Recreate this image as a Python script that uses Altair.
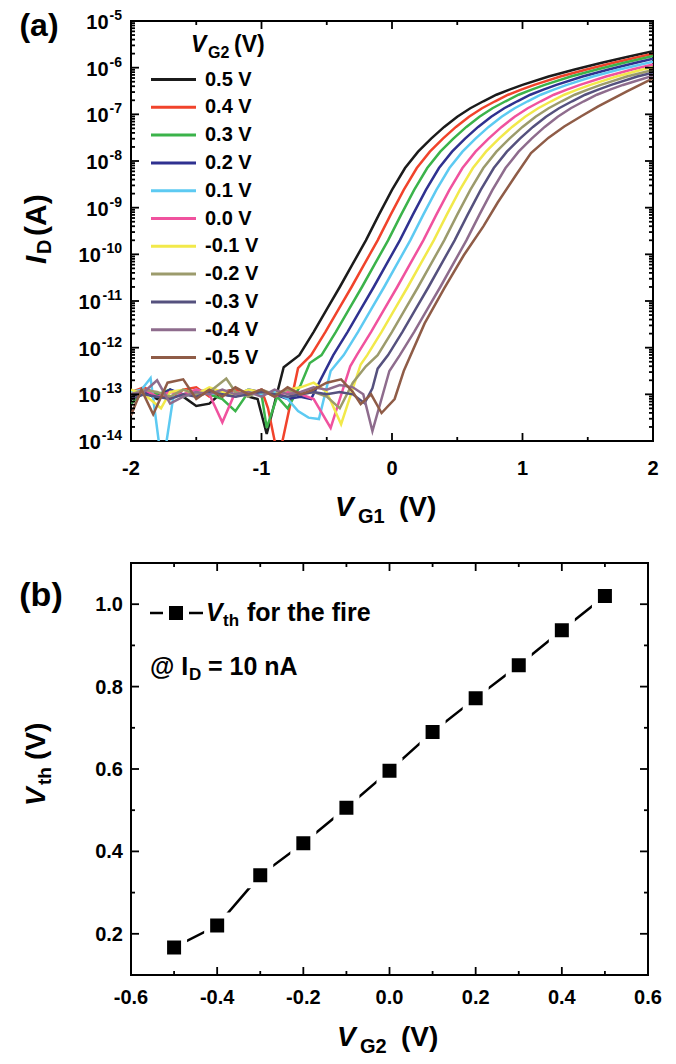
import altair as alt
import pandas as pd

FONT = "Liberation Sans"

# ---------------- panel (a): transfer curves ----------------
VG2_NAMES = ["0.5 V", "0.4 V", "0.3 V", "0.2 V", "0.1 V", "0.0 V",
             "-0.1 V", "-0.2 V", "-0.3 V", "-0.4 V", "-0.5 V"]
COLORS = ["#1b1b1b", "#f1432b", "#3bb34a", "#2f3190", "#5dcaf2", "#f0529e",
          "#f2e94a", "#9c9b6c", "#55517e", "#8e6c8d", "#8f5c47"]

VG1_P05 = [-2.0, -1.9, -1.8, -1.7, -1.6, -1.5, -1.4, -1.3, -1.2, -1.1, -1.03, -0.96, -0.83,
           -0.71, -0.6, -0.5, -0.4, -0.3, -0.2, -0.1, 0.0, 0.1, 0.2, 0.3, 0.4, 0.5, 0.6, 0.7,
           0.8, 0.9, 1.0, 1.2, 1.4, 1.6, 1.8, 2.0]
LOG_P05 = [-13.05, -12.95, -13.1, -12.9, -13.05, -13.25, -13.2, -12.95, -12.9, -13.05, -13.1, -13.85, -12.42,
           -12.16, -11.66, -11.18, -10.70, -10.20, -9.70, -9.15, -8.62, -8.15, -7.80, -7.52, -7.27, -7.05, -6.87, -6.72,
           -6.58, -6.47, -6.37, -6.19, -6.04, -5.90, -5.77, -5.65]

VG1_P04 = [-2.0, -1.9, -1.8, -1.7, -1.6, -1.5, -1.4, -1.3, -1.2, -1.1, -1.0, -0.95, -0.87, -0.72,
           -0.62, -0.51, -0.41, -0.31, -0.21, -0.11, -0.01, 0.09, 0.19, 0.29, 0.39, 0.49, 0.59, 0.69, 0.79,
           0.89, 0.99, 1.09, 1.29, 1.49, 1.69, 1.89, 2.0]
LOG_P04 = [-12.95, -12.85, -13.0, -13.1, -12.9, -12.85, -13.05, -12.95, -12.9, -13.0, -12.9, -13.3, -14.4, -12.44,
           -12.16, -11.66, -11.18, -10.70, -10.20, -9.70, -9.15, -8.62, -8.15, -7.80, -7.52, -7.27, -7.05, -6.87, -6.72,
           -6.58, -6.47, -6.37, -6.19, -6.04, -5.90, -5.77, -5.70]

VG1_P03 = [-2.0, -1.9, -1.8, -1.7, -1.6, -1.5, -1.4, -1.3, -1.2, -1.1, -1.0, -0.96, -0.88, -0.8, -0.7, -0.63,
           -0.54, -0.43, -0.33, -0.23, -0.13, -0.03, 0.07, 0.17, 0.27, 0.37, 0.47, 0.57, 0.67, 0.77, 0.87,
           0.97, 1.07, 1.17, 1.37, 1.57, 1.77, 2.0]
LOG_P03 = [-13.2, -12.95, -13.0, -12.9, -13.05, -12.95, -13.0, -13.1, -13.36, -12.95, -13.0, -13.72, -13.05, -13.3, -12.8, -12.33,
           -12.16, -11.66, -11.18, -10.70, -10.20, -9.70, -9.15, -8.62, -8.15, -7.80, -7.52, -7.27, -7.05, -6.87, -6.72,
           -6.58, -6.47, -6.37, -6.19, -6.04, -5.90, -5.75]

VG1_P02 = [-2.0, -1.9, -1.8, -1.7, -1.6, -1.5, -1.4, -1.3, -1.2, -1.1, -1.0, -0.9, -0.8, -0.7, -0.62, -0.55,
           -0.45, -0.34, -0.24, -0.14, -0.04, 0.06, 0.16, 0.26, 0.36, 0.46, 0.56, 0.66, 0.76, 0.86, 0.96,
           1.06, 1.16, 1.26, 1.46, 1.66, 1.86, 2.0]
LOG_P02 = [-13.0, -12.95, -13.05, -12.9, -13.0, -12.95, -12.9, -13.0, -13.05, -12.9, -12.95, -13.0, -13.1, -13.05, -13.1, -12.7,
           -12.16, -11.66, -11.18, -10.70, -10.20, -9.70, -9.15, -8.62, -8.15, -7.80, -7.52, -7.27, -7.05, -6.87, -6.72,
           -6.58, -6.47, -6.37, -6.19, -6.04, -5.90, -5.81]

VG1_P01 = [-2.0, -1.92, -1.85, -1.76, -1.67, -1.6, -1.5, -1.4, -1.3, -1.2, -1.1, -1.0, -0.9, -0.8, -0.72, -0.64, -0.56, -0.47,
           -0.37, -0.26, -0.16, -0.06, 0.04, 0.14, 0.24, 0.34, 0.44, 0.54, 0.64, 0.74, 0.84, 0.94, 1.04,
           1.14, 1.24, 1.34, 1.54, 1.74, 2.0]
LOG_P01 = [-12.95, -12.9, -12.65, -14.6, -12.95, -13.05, -12.9, -13.0, -12.95, -13.05, -12.9, -13.0, -12.95, -13.1, -13.36, -13.5, -13.53, -12.5,
           -12.16, -11.66, -11.18, -10.70, -10.20, -9.70, -9.15, -8.62, -8.15, -7.80, -7.52, -7.27, -7.05, -6.87, -6.72,
           -6.58, -6.47, -6.37, -6.19, -6.04, -5.87]

VG1_P00 = [-2.0, -1.9, -1.8, -1.7, -1.6, -1.5, -1.4, -1.3, -1.2, -1.1, -1.0, -0.9, -0.8, -0.7, -0.6, -0.47, -0.36, -0.32,
           -0.27, -0.16, -0.06, 0.04, 0.14, 0.24, 0.34, 0.44, 0.54, 0.64, 0.74, 0.84, 0.94, 1.04, 1.14,
           1.24, 1.34, 1.44, 1.64, 1.84, 2.0]
LOG_P00 = [-13.0, -12.9, -13.05, -12.95, -13.0, -12.9, -13.0, -13.6, -12.95, -13.0, -12.9, -13.05, -12.95, -13.0, -13.1, -13.72, -12.75, -12.4,
           -12.16, -11.66, -11.18, -10.70, -10.20, -9.70, -9.15, -8.62, -8.15, -7.80, -7.52, -7.27, -7.05, -6.87, -6.72,
           -6.58, -6.47, -6.37, -6.19, -6.04, -5.93]

VG1_M01 = [-2.0, -1.9, -1.77, -1.7, -1.6, -1.5, -1.4, -1.3, -1.2, -1.1, -1.0, -0.9, -0.8, -0.7, -0.6, -0.5, -0.39, -0.24,
           -0.19, -0.08, 0.02, 0.12, 0.22, 0.32, 0.42, 0.52, 0.62, 0.72, 0.82, 0.92, 1.02, 1.12, 1.22,
           1.32, 1.42, 1.52, 1.72, 1.92, 2.0]
LOG_M01 = [-12.9, -13.0, -13.3, -12.95, -12.9, -13.0, -12.85, -12.95, -13.0, -12.9, -12.95, -13.0, -12.9, -12.85, -12.75, -12.95, -13.64, -12.36,
           -12.16, -11.66, -11.18, -10.70, -10.20, -9.70, -9.15, -8.62, -8.15, -7.80, -7.52, -7.27, -7.05, -6.87, -6.72,
           -6.58, -6.47, -6.37, -6.19, -6.04, -5.99]

VG1_M02 = [-2.0, -1.9, -1.8, -1.7, -1.6, -1.5, -1.4, -1.27, -1.2, -1.1, -1.0, -0.9, -0.8, -0.7, -0.6, -0.5, -0.4, -0.3, -0.2,
           -0.11, 0.0, 0.1, 0.2, 0.3, 0.4, 0.5, 0.6, 0.7, 0.8, 0.9, 1.0, 1.1, 1.2, 1.3,
           1.4, 1.5, 1.6, 1.8, 2.0]
LOG_M02 = [-13.0, -12.9, -12.95, -13.05, -12.9, -13.0, -12.95, -12.66, -12.95, -13.05, -12.9, -13.0, -12.9, -13.0, -12.95, -13.05, -13.3, -12.75, -12.4,
           -12.16, -11.66, -11.18, -10.70, -10.20, -9.70, -9.15, -8.62, -8.15, -7.80, -7.52, -7.27, -7.05, -6.87, -6.72,
           -6.58, -6.47, -6.37, -6.19, -6.05]

VG1_M03 = [-2.0, -1.9, -1.8, -1.7, -1.6, -1.5, -1.4, -1.3, -1.2, -1.1, -1.0, -0.9, -0.8, -0.7, -0.6, -0.5, -0.4, -0.3, -0.21, -0.15, -0.11,
           -0.03, 0.08, 0.18, 0.28, 0.38, 0.48, 0.58, 0.68, 0.78, 0.88, 0.98, 1.08, 1.18, 1.28, 1.38,
           1.48, 1.58, 1.68, 1.88, 2.0]
LOG_M03 = [-13.1, -13.0, -13.05, -13.1, -13.0, -13.05, -12.95, -13.0, -13.05, -13.0, -12.95, -13.0, -13.05, -13.0, -12.95, -13.0, -12.95, -13.0, -13.19, -12.87, -12.45,
           -12.16, -11.66, -11.18, -10.70, -10.20, -9.70, -9.15, -8.62, -8.15, -7.80, -7.52, -7.27, -7.05, -6.87, -6.72,
           -6.58, -6.47, -6.37, -6.19, -6.11]

VG1_M04 = [-2.0, -1.9, -1.8, -1.7, -1.6, -1.5, -1.4, -1.3, -1.2, -1.1, -1.0, -0.9, -0.8, -0.7, -0.6, -0.5, -0.4, -0.3, -0.22, -0.15, -0.02,
           0.06, 0.17, 0.27, 0.37, 0.47, 0.57, 0.67, 0.77, 0.87, 0.97, 1.07, 1.17, 1.27, 1.37, 1.47,
           1.57, 1.67, 1.77, 2.0]
LOG_M04 = [-13.0, -12.95, -12.7, -13.2, -13.05, -12.95, -13.0, -12.9, -13.0, -12.95, -13.05, -12.9, -13.0, -12.95, -12.85, -12.9, -12.8, -12.85, -13.0, -13.79, -12.5,
           -12.16, -11.66, -11.18, -10.70, -10.20, -9.70, -9.15, -8.62, -8.15, -7.80, -7.52, -7.27, -7.05, -6.87, -6.72,
           -6.58, -6.47, -6.37, -6.17]

VG1_M05 = [-2.0, -1.92, -1.83, -1.72, -1.6, -1.5, -1.4, -1.3, -1.2, -1.1, -1.0, -0.9, -0.8, -0.7, -0.6, -0.5, -0.39, -0.3, -0.24, -0.16, -0.08, 0.02, 0.09,
           0.25, 0.4, 0.55, 0.7, 0.81, 0.95, 1.065, 1.2, 1.32, 1.45, 1.58, 1.8, 2.0]
LOG_M05 = [-13.45, -12.9, -13.43, -12.75, -12.68, -13.1, -12.9, -13.05, -12.85, -13.0, -12.9, -13.05, -12.85, -13.0, -12.9, -12.75, -12.68, -12.95, -13.21, -13.0, -13.4, -13.1, -12.5,
           -11.48, -10.73, -10.02, -9.4, -8.89, -8.3, -7.83, -7.5, -7.26, -7.04, -6.83, -6.51, -6.23]

CURVES = [(VG1_P05, LOG_P05), (VG1_P04, LOG_P04), (VG1_P03, LOG_P03), (VG1_P02, LOG_P02),
          (VG1_P01, LOG_P01), (VG1_P00, LOG_P00), (VG1_M01, LOG_M01), (VG1_M02, LOG_M02),
          (VG1_M03, LOG_M03), (VG1_M04, LOG_M04), (VG1_M05, LOG_M05)]

XA_MAJOR = [-2, -1, 0, 1, 2]
XA_LABELS = ["-2", "-1", "0", "1", "2"]
XA_MINOR = [-1.5, -0.5, 0.5, 1.5]
YA_EXP = [-5, -6, -7, -8, -9, -10, -11, -12, -13, -14]
YA_MANT = [2, 3, 4, 5, 6, 7, 8, 9]

# ---------------- panel (b): threshold voltage ----------------
VG2_B = [-0.5, -0.4, -0.3, -0.2, -0.1, 0.0, 0.1, 0.2, 0.3, 0.4, 0.5]
VTH_B = [0.167, 0.22, 0.342, 0.42, 0.506, 0.596, 0.69, 0.772, 0.852, 0.937, 1.02]
XB_MAJOR = [-0.6, -0.4, -0.2, 0.0, 0.2, 0.4, 0.6]
XB_LABELS = ["-0.6", "-0.4", "-0.2", "0.0", "0.2", "0.4", "0.6"]
XB_MINOR = [-0.5, -0.3, -0.1, 0.1, 0.3, 0.5]
YB_MAJOR = [0.2, 0.4, 0.6, 0.8, 1.0]
YB_LABELS = ["0.2", "0.4", "0.6", "0.8", "1.0"]
YB_MINOR = [0.3, 0.5, 0.7, 0.9]

WA, HA = 522, 420
WB, HB = 517, 412

rows = []
for name, (vs, ls) in zip(VG2_NAMES, CURVES):
    assert len(vs) == len(ls), name
    for v, l in zip(vs, ls):
        rows.append({"vg1": v, "id": 10.0 ** l, "vg2": name})
df_a = pd.DataFrame(rows)

xs_a = alt.Scale(domain=[-2, 2], nice=False, zero=False)
ys_a = alt.Scale(type="log", domain=[1e-14, 1e-5], nice=False)
xs_b = alt.Scale(domain=[-0.6, 0.6], nice=False, zero=False)
ys_b = alt.Scale(domain=[0.1, 1.1], nice=False, zero=False)

ONE = alt.Data(values=[{"k": 0}])


def ann(text, x, y, size, italic=False, align="left", angle=0):
    props = dict(text=text, font=FONT, fontSize=size, fontWeight="bold",
                 align=align, baseline="middle", color="black")
    if italic:
        props["fontStyle"] = "italic"
    if angle:
        props["angle"] = angle
    return alt.Chart(ONE).mark_text(**props).encode(x=alt.value(x), y=alt.value(y))


def xticks(vals, length, W, H, scale):
    d = pd.DataFrame({"t": vals})
    base = alt.Chart(d).mark_rule(color="black", strokeWidth=1.8)
    bot = base.encode(x=alt.X("t:Q", scale=scale, axis=None), y=alt.value(H), y2=alt.value(H - length))
    top = base.encode(x=alt.X("t:Q", scale=scale, axis=None), y=alt.value(0), y2=alt.value(length))
    return [bot, top]


def yticks(vals, length, W, H, scale):
    d = pd.DataFrame({"t": vals})
    base = alt.Chart(d).mark_rule(color="black", strokeWidth=1.8)
    lft = base.encode(y=alt.Y("t:Q", scale=scale, axis=None), x=alt.value(0), x2=alt.value(length))
    rgt = base.encode(y=alt.Y("t:Q", scale=scale, axis=None), x=alt.value(W), x2=alt.value(W - length))
    return [lft, rgt]


def xlabels(vals, labels, scale, ypix, size=20):
    d = pd.DataFrame({"t": vals, "lab": labels})
    return alt.Chart(d).mark_text(font=FONT, fontSize=size, fontWeight="bold", color="black",
                                  align="center", baseline="middle").encode(
        x=alt.X("t:Q", scale=scale, axis=None), y=alt.value(ypix), text="lab:N")


def ylabels(vals, labels, scale, xpix, size=20):
    d = pd.DataFrame({"t": vals, "lab": labels})
    return alt.Chart(d).mark_text(font=FONT, fontSize=size, fontWeight="bold", color="black",
                                  align="right", baseline="middle", dy=1).encode(
        y=alt.Y("t:Q", scale=scale, axis=None), x=alt.value(xpix), text="lab:N")


lines_a = alt.Chart(df_a).mark_line(strokeWidth=2.5, clip=True).encode(
    x=alt.X("vg1:Q", scale=xs_a, axis=None),
    y=alt.Y("id:Q", scale=ys_a, axis=None),
    color=alt.Color("vg2:N", scale=alt.Scale(domain=VG2_NAMES, range=COLORS), title=None,
                    legend=alt.Legend(orient="none", legendX=32, legendY=48,
                                      symbolType="M-2.5,0H2.5", symbolSize=324, symbolStrokeWidth=3,
                                      labelFont=FONT, labelFontSize=20, labelFontWeight="bold",
                                      labelColor="black", labelOffset=21, rowPadding=6.8, padding=0,
                                      labelLimit=200)),
)

decades = pd.DataFrame({"val": [10.0 ** e for e in YA_EXP], "exp": [str(e) for e in YA_EXP]})
minor_log = [m * 10.0 ** e for e in YA_EXP[1:] for m in YA_MANT]

SUP = 14
w1 = SUP * (0.333 + 0.556) + 1
w2 = SUP * (0.333 + 2 * 0.556) + 1
ten1 = alt.Chart(decades).transform_filter("length(datum.exp) == 2").mark_text(
    align="right", baseline="middle", font=FONT, fontSize=20, fontWeight="bold", dy=2, color="black"
).encode(x=alt.value(-9 - w1), y=alt.Y("val:Q", scale=ys_a, axis=None), text=alt.value("10"))
ten2 = alt.Chart(decades).transform_filter("length(datum.exp) == 3").mark_text(
    align="right", baseline="middle", font=FONT, fontSize=20, fontWeight="bold", dy=2, color="black"
).encode(x=alt.value(-9 - w2), y=alt.Y("val:Q", scale=ys_a, axis=None), text=alt.value("10"))
sup = alt.Chart(decades).mark_text(
    align="right", baseline="middle", font=FONT, fontSize=SUP, fontWeight="bold", dy=-5, color="black"
).encode(x=alt.value(-9), y=alt.Y("val:Q", scale=ys_a, axis=None), text="exp:N")

layers_a = [lines_a]
layers_a += xticks(XA_MAJOR, 8, WA, HA, xs_a) + xticks(XA_MINOR, 4, WA, HA, xs_a)
layers_a += yticks(list(decades["val"]), 8, WA, HA, ys_a) + yticks(minor_log, 4, WA, HA, ys_a)
layers_a += [ten1, ten2, sup, xlabels(XA_MAJOR, XA_LABELS, xs_a, HA + 28)]
layers_a += [
    ann("(a)", -92, 5, 32, align="center"),
    ann("V", 60, 24, 23, italic=True),
    ann("G2", 77, 32, 16),
    ann("(V)", 103, 24, 23),
    ann("I", -94, 243, 30, italic=True, angle=270),
    ann("D", -86, 233, 20, angle=270),
    ann("(A)", -94, 215, 30, angle=270),
    ann("V", 204, 487, 28, italic=True),
    ann("G1", 227, 496, 20),
    ann("(V)", 268, 487, 28),
]
panel_a = alt.layer(*layers_a).properties(width=WA, height=HA)

# panel b
df_b = pd.DataFrame({"vg2": VG2_B, "vth": VTH_B})
line_b = alt.Chart(df_b).mark_line(color="black", strokeWidth=2.5).encode(
    x=alt.X("vg2:Q", scale=xs_b, axis=None),
    y=alt.Y("vth:Q", scale=ys_b, axis=None),
)
pts_b = alt.Chart(df_b).mark_square(size=400, fill="black", stroke="white", strokeWidth=6,
                                    opacity=1, filled=True).encode(
    x=alt.X("vg2:Q", scale=xs_b, axis=None), y=alt.Y("vth:Q", scale=ys_b, axis=None))

leg_line = alt.Chart(ONE).mark_rule(color="black", strokeWidth=2.5).encode(
    x=alt.value(19), x2=alt.value(72), y=alt.value(50))
leg_sq = alt.Chart(ONE).mark_square(size=400, fill="black", stroke="white", strokeWidth=6,
                                    opacity=1, filled=True).encode(x=alt.value(45), y=alt.value(50))

layers_b = [line_b, pts_b]
layers_b += xticks(XB_MAJOR, 8, WB, HB, xs_b) + xticks(XB_MINOR, 4, WB, HB, xs_b)
layers_b += yticks(YB_MAJOR, 8, WB, HB, ys_b) + yticks(YB_MINOR, 4, WB, HB, ys_b)
layers_b += [xlabels(XB_MAJOR, XB_LABELS, xs_b, HB + 23), ylabels(YB_MAJOR, YB_LABELS, ys_b, -8)]
layers_b += [
    leg_line, leg_sq,
    ann("V", 75, 50, 25, italic=True),
    ann("th", 92, 58, 17),
    ann("for the fire", 116, 50, 25),
    ann("@ I", 19, 104, 25),
    ann("D", 58, 112, 17),
    ann("= 10 nA", 77, 104, 25),
    ann("(b)", -90, 33, 34, align="center"),
    ann("V", -94, 243, 28, italic=True, angle=270),
    ann("th", -86, 222, 19, angle=270),
    ann("(V)", -94, 197, 28, angle=270),
    ann("V", 206, 475, 28, italic=True),
    ann("G2", 229, 484, 20),
    ann("(V)", 270, 475, 28),
]
panel_b = alt.layer(*layers_b).properties(width=WB, height=HB)

chart = alt.vconcat(panel_a, panel_b, spacing=33).properties(
    padding={"left": 10, "top": 0, "right": 5, "bottom": 0}
).configure_view(stroke="black", strokeWidth=2)

chart.save("out.html", embed_options={"renderer": "svg", "actions": False})
